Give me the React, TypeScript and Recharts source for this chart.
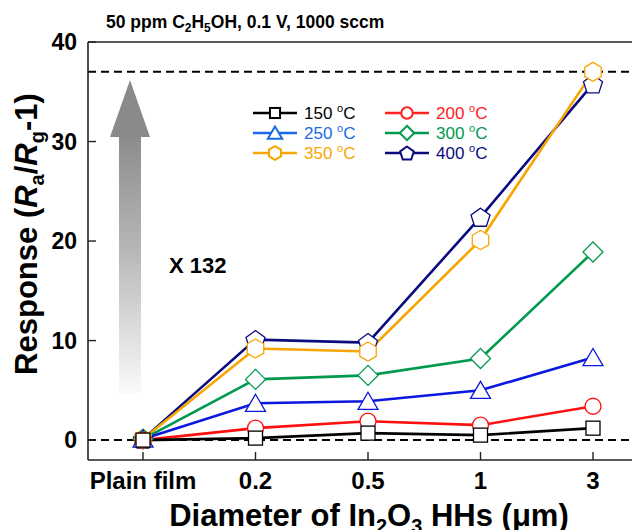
import React from 'react';
import { LineChart, Line, XAxis, YAxis, ReferenceLine } from 'recharts';

const categories = ['Plain film', '0.2', '0.5', '1', '3'];
const t150 = [0.0, 0.2, 0.7, 0.5, 1.2];
const t200 = [0.0, 1.2, 1.9, 1.5, 3.4];
const t250 = [0.1, 3.7, 3.9, 5.0, 8.3];
const t300 = [0.1, 6.1, 6.5, 8.2, 18.9];
const t350 = [0.1, 9.2, 8.9, 20.1, 37.0];
const t400 = [0.1, 10.1, 9.8, 22.4, 35.8];
const yTicks = [0, 10, 20, 30, 40];
const refLevels = [37, 0];

const FONT = '"Liberation Sans", Arial, Helvetica, sans-serif';

type Shape = 'square' | 'circle' | 'triangle' | 'diamond' | 'hexagon' | 'pentagon';

const series: { key: string; label: string; color: string; legendColor: string; shape: Shape }[] = [
  { key: 't150', label: '150', color: '#000000', legendColor: '#000000', shape: 'square' },
  { key: 't200', label: '200', color: '#ff1010', legendColor: '#ff2020', shape: 'circle' },
  { key: 't250', label: '250', color: '#0a18e0', legendColor: '#1a6ae6', shape: 'triangle' },
  { key: 't300', label: '300', color: '#00994e', legendColor: '#00994e', shape: 'diamond' },
  { key: 't350', label: '350', color: '#f7a500', legendColor: '#f7a500', shape: 'hexagon' },
  { key: 't400', label: '400', color: '#0b0b80', legendColor: '#0b0b80', shape: 'pentagon' },
];

const valuesByKey: Record<string, number[]> = { t150, t200, t250, t300, t350, t400 };

const data = categories.map((c, i) => {
  const row: Record<string, string | number> = { cat: c };
  series.forEach((s) => {
    row[s.key] = valuesByKey[s.key][i];
  });
  return row;
});

function poly(cx: number, cy: number, r: number, n: number, rot: number) {
  const pts: string[] = [];
  for (let i = 0; i < n; i++) {
    const a = rot + (i * 2 * Math.PI) / n;
    pts.push(`${cx + r * Math.cos(a)},${cy + r * Math.sin(a)}`);
  }
  return pts.join(' ');
}

function Marker({ cx, cy, shape, color, scale = 1, sw = 1.3 }: { cx: number; cy: number; shape: Shape; color: string; scale?: number; sw?: number }) {
  const p = { fill: '#ffffff', stroke: color, strokeWidth: sw };
  switch (shape) {
    case 'square': {
      const h = 7 * scale;
      return <rect x={cx - h} y={cy - h} width={2 * h} height={2 * h} {...p} />;
    }
    case 'circle':
      return <circle cx={cx} cy={cy} r={8 * scale} {...p} />;
    case 'triangle': {
      const w = 10 * scale;
      const h = 9 * scale;
      return <polygon points={`${cx},${cy - h} ${cx + w},${cy + h * 0.9} ${cx - w},${cy + h * 0.9}`} {...p} />;
    }
    case 'diamond': {
      const r = 10 * scale;
      return <polygon points={`${cx},${cy - r} ${cx + r},${cy} ${cx},${cy + r} ${cx - r},${cy}`} {...p} />;
    }
    case 'hexagon':
      return <polygon points={poly(cx, cy, 9.5 * scale, 6, -Math.PI / 2)} {...p} />;
    case 'pentagon':
      return <polygon points={poly(cx, cy + 1 * scale, 10 * scale, 5, -Math.PI / 2)} {...p} />;
  }
  return null;
}

const XTick = (props: any) => {
  const { x, y, payload } = props;
  return (
    <g>
      <line x1={x} x2={x} y1={y} y2={y - 8} stroke="#222" strokeWidth={1.4} />
      <text x={x} y={y + 29} textAnchor="middle" fontFamily={FONT} fontWeight="bold" fontSize={24} fill="#000">
        {payload.value}
      </text>
    </g>
  );
};

const YTick = (props: any) => {
  const { x, y, payload } = props;
  return (
    <g>
      <line x1={x + 11} x2={x + 19} y1={y} y2={y} stroke="#222" strokeWidth={1.4} />
      <text x={x} y={y} dy="0.36em" textAnchor="end" fontFamily={FONT} fontWeight="bold" fontSize={23} fill="#000">
        {payload.value}
      </text>
    </g>
  );
};

const legendRows = [
  [series[0], series[1]],
  [series[2], series[3]],
  [series[4], series[5]],
];

export default function App() {
  return (
    <div style={{ position: 'relative', width: 632, height: 522, overflow: 'hidden', background: '#fff' }}>
      <LineChart
        width={660}
        height={522}
        data={data}
        margin={{ top: 34, right: 18, left: 30, bottom: 30 }}
      >
        <XAxis
          dataKey="cat"
          padding={{ left: 55, right: 57 }}
          axisLine={{ stroke: '#222', strokeWidth: 1.6 }}
          tickLine={false}
          tickSize={0}
          tickMargin={0}
          tick={<XTick />}
          height={40}
          interval={0}
        />
        <YAxis
          type="number"
          domain={[-2, 40]}
          ticks={yTicks}
          width={50}
          axisLine={{ stroke: '#222', strokeWidth: 1.6 }}
          tickLine={false}
          tickSize={0}
          tickMargin={11}
          tick={<YTick />}
          allowDataOverflow
        />
        <ReferenceLine y={40} stroke="#222" strokeWidth={1.6} ifOverflow="visible" />
        {refLevels.map((v) => (
          <ReferenceLine key={v} y={v} stroke="#000" strokeWidth={2} strokeDasharray="8 5" />
        ))}
        {[...series].reverse().map((s) => (
          <Line
            key={s.key}
            type="linear"
            dataKey={s.key}
            stroke={s.color}
            strokeWidth={2.6}
            isAnimationActive={false}
            dot={(p: any) => <Marker key={s.key + p.index} cx={p.cx} cy={p.cy} shape={s.shape} color={s.color} />}
            activeDot={false}
          />
        ))}
      </LineChart>
      <svg width={632} height={522} style={{ position: 'absolute', left: 0, top: 0, pointerEvents: 'none' }}>
        <defs>
          <linearGradient id="arrowGrad" x1="0" y1="0" x2="0" y2="1">
            <stop offset="0%" stopColor="#8c8c8c" />
            <stop offset="45%" stopColor="#b8b8b8" />
            <stop offset="100%" stopColor="#fafafa" />
          </linearGradient>
        </defs>
        <polygon points="122,72 142,129 102,129" fill="#8a8a8a" />
        <rect x={111} y={129} width={22} height={256} fill="url(#arrowGrad)" />
        <text x={161} y={265} fontFamily={FONT} fontWeight="bold" fontSize={22} fill="#000">X 132</text>
        <text x={98} y={20} fontFamily={FONT} fontWeight="bold" fontSize={17.5} fill="#000">
          50 ppm C<tspan fontSize={12} dy={4}>2</tspan><tspan dy={-4}>H</tspan>
          <tspan fontSize={12} dy={4}>5</tspan><tspan dy={-4}>OH, 0.1 V, 1000 sccm</tspan>
        </text>
        {legendRows.map((row, r) =>
          row.map((s, c) => {
            const x0 = c === 0 ? 245 : 377;
            const y = 105 + r * 20;
            return (
              <g key={s.key}>
                <line x1={x0} x2={x0 + 44} y1={y} y2={y} stroke={s.legendColor} strokeWidth={2.5} />
                <Marker cx={x0 + 22} cy={y} shape={s.shape} color={s.legendColor} scale={0.72} sw={2} />
                <text x={x0 + 51} y={y + 6} fontFamily={FONT} fontSize={17} fill={s.legendColor}>
                  {s.label + ' '}
                  <tspan fontSize={11} dy={-7}>o</tspan>
                  <tspan dy={7}>C</tspan>
                </text>
              </g>
            );
          })
        )}
        <text
          transform="translate(29,226) rotate(-90)"
          textAnchor="middle"
          fontFamily={FONT}
          fontWeight="bold"
          fontSize={31}
          fill="#000"
        >
          Response (<tspan fontStyle="italic">R</tspan>
          <tspan fontSize={20} dy={7}>a</tspan>
          <tspan dy={-7}>/</tspan>
          <tspan fontStyle="italic">R</tspan>
          <tspan fontSize={20} dy={7}>g</tspan>
          <tspan dy={-7}>-1)</tspan>
        </text>
        <text x={361} y={518} textAnchor="middle" fontFamily={FONT} fontWeight="bold" fontSize={31} fill="#000">
          Diameter of In<tspan fontSize={20} dy={7}>2</tspan>
          <tspan dy={-7}>O</tspan>
          <tspan fontSize={20} dy={7}>3</tspan>
          <tspan dy={-7}> HHs (μm)</tspan>
        </text>
      </svg>
    </div>
  );
}
